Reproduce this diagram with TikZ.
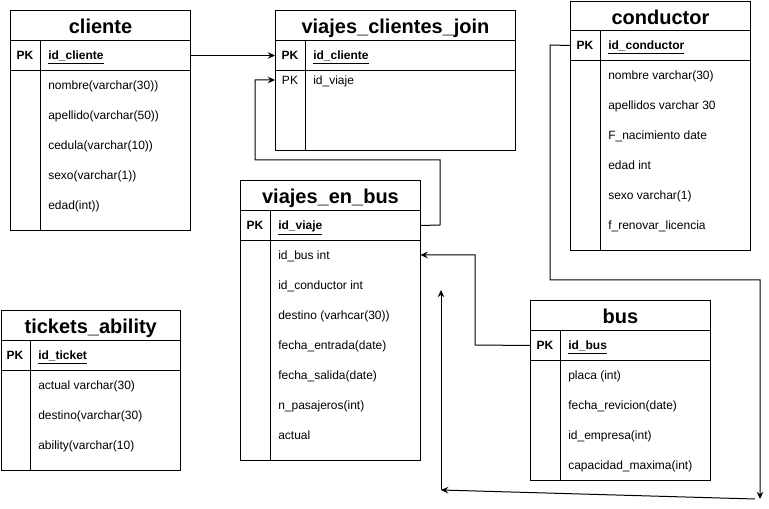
\documentclass[tikz,border=0pt]{standalone}
\usepackage{fontspec}
\setmainfont{Liberation Sans}
\usetikzlibrary{arrows.meta}
\begin{document}
\begin{tikzpicture}[x=0.75pt,y=-0.75pt,
  lw/.style={line width=0.75pt},
  ttl/.style={draw, lw, minimum height=22.5pt, inner sep=0, anchor=north west,
    font=\fontsize{15}{18}\selectfont\bfseries, text height=14pt, text depth=1.5pt},
  pkrow/.style={draw, lw, minimum height=22.5pt, inner sep=0, anchor=north west},
  bodybox/.style={draw, lw, inner sep=0, anchor=north west},
  spot/.style={inner sep=0, minimum height=15pt, anchor=west},
  fld/.style={anchor=west, inner sep=0, font=\fontsize{9}{11}\selectfont, text height=9.3pt, text depth=1.8pt},
  keyf/.style={fld, font=\fontsize{9}{11}\selectfont\bfseries},
  pk/.style={inner sep=0, font=\fontsize{9}{11}\selectfont\bfseries, text height=9.3pt, text depth=1.8pt},
  pkn/.style={pk, font=\fontsize{9}{11}\selectfont},
  conn/.style={draw, lw, line join=miter, -{Stealth[length=5.5pt,width=5pt,inset=2pt]}}
]
\useasboundingbox (0,0) rectangle (769,509);

% ---------- cliente ----------
\node[ttl, minimum width=135pt] (clt) at (10,10) {cliente};
\node[pkrow, minimum width=135pt] (clpk) at (10,40) {};
\node[bodybox, minimum width=135pt, minimum height=120pt] (clb) at (10,70) {};
\draw[lw] (40,40) -- (40,230);
\node[pk] (clpkl) at (25,55) {PK};
\node[keyf] (clk) at (48,55) {\underline{id\_cliente}};
\node[fld] (clf1) at (48,85) {nombre(varchar(30))};
\node[fld] (clf2) at (48,115) {apellido(varchar(50))};
\node[fld] (clf3) at (48,145) {cedula(varchar(10))};
\node[fld] (clf4) at (48,175) {sexo(varchar(1))};
\node[fld] (clf5) at (48,205) {edad(int))};

% ---------- viajes_clientes_join ----------
\node[ttl, minimum width=180pt] (vct) at (275,10) {viajes\_clientes\_join};
\node[pkrow, minimum width=180pt] (vcpk) at (275,40) {};
\node[bodybox, minimum width=180pt, minimum height=60pt] (vcb) at (275,70) {};
\draw[lw] (305,40) -- (305,150);
\node[pk] (vcpkl) at (290,55) {PK};
\node[keyf] (vck) at (313,55) {\underline{id\_cliente}};
\node[pkn] (vcpk2) at (290,80) {PK};
\node[fld] (vcf1) at (313,80) {id\_viaje};
\node[spot, minimum width=180pt] (vcid) at (275,80) {};

% ---------- conductor ----------
\node[ttl, minimum width=135pt, minimum height=21.75pt] (cot) at (570,1) {conductor};
\node[pkrow, minimum width=135pt] (copk) at (570,30) {};
\node[bodybox, minimum width=135pt, minimum height=142.5pt] (cob) at (570,60) {};
\draw[lw] (600,30) -- (600,250);
\node[pk] (copkl) at (585,45) {PK};
\node[keyf] (cok) at (608,45) {\underline{id\_conductor}};
\node[fld] (cof1) at (608,75) {nombre varchar(30)};
\node[fld] (cof2) at (608,105) {apellidos varchar 30};
\node[fld] (cof3) at (608,135) {F\_nacimiento date};
\node[fld] (cof4) at (608,165) {edad int};
\node[fld] (cof5) at (608,195) {sexo varchar(1)};
\node[fld] (cof6) at (608,225) {f\_renovar\_licencia};

% ---------- tickets_ability ----------
\node[ttl, minimum width=134.6pt] (tit) at (0.5,310) {tickets\_ability};
\node[pkrow, minimum width=134.6pt] (tipk) at (0.5,340) {};
\node[bodybox, minimum width=134.6pt, minimum height=75pt] (tib) at (0.5,370) {};
\draw[lw] (30,340) -- (30,470);
\node[pk] (tipkl) at (15,355) {PK};
\node[keyf] (tik) at (38,355) {\underline{id\_ticket}};
\node[fld] (tif1) at (38,385) {actual varchar(30)};
\node[fld] (tif2) at (38,415) {destino(varchar(30)};
\node[fld] (tif3) at (38,445) {ability(varchar(10)};

% ---------- viajes_en_bus ----------
\node[ttl, minimum width=135pt] (vbt) at (240,180) {viajes\_en\_bus};
\node[pkrow, minimum width=135pt] (vbpk) at (240,210) {};
\node[bodybox, minimum width=135pt, minimum height=165pt] (vbb) at (240,240) {};
\draw[lw] (270,210) -- (270,460);
\node[pk] (vbpkl) at (255,225) {PK};
\node[keyf] (vbk) at (278,225) {\underline{id\_viaje}};
\node[fld] (vbf1) at (278,255) {id\_bus int};
\node[fld] (vbf2) at (278,285) {id\_conductor int};
\node[fld] (vbf3) at (278,315) {destino (varhcar(30))};
\node[fld] (vbf4) at (278,345) {fecha\_entrada(date)};
\node[fld] (vbf5) at (278,375) {fecha\_salida(date)};
\node[fld] (vbf6) at (278,405) {n\_pasajeros(int)};
\node[fld] (vbf7) at (278,435) {actual};
\node[spot, minimum width=135pt] (vbbus) at (240,255) {};

% ---------- bus ----------
\node[ttl, minimum width=135pt] (bst) at (530,300) {bus};
\node[pkrow, minimum width=135pt] (bspk) at (530,330) {};
\node[bodybox, minimum width=135pt, minimum height=90pt] (bsb) at (530,360) {};
\draw[lw] (560,330) -- (560,480);
\node[pk] (bspkl) at (545,345) {PK};
\node[keyf] (bsk) at (568,345) {\underline{id\_bus}};
\node[fld] (bsf1) at (568,375) {placa (int)};
\node[fld] (bsf2) at (568,405) {fecha\_revicion(date)};
\node[fld] (bsf3) at (568,435) {id\_empresa(int)};
\node[fld] (bsf4) at (568,465) {capacidad\_maxima(int)};

% ---------- free ends ----------
\coordinate (e1) at (760,499);
\coordinate (e1b) at (755,499);
\coordinate (e2) at (441,490);
\coordinate (e3) at (441,290);

% ---------- connectors ----------
\draw[conn] (clpk.east) -- (vcpk.west);
\draw[conn] (vbpk.east) -- (440,225) -- (440,160) -- (255,160) -- (255,80) -- (vcid.west);
\draw[conn] (bspk.west) -- (475,345) -- (475,255) -- (vbbus.east);
\draw[conn] (copk.west) -- (550,45) -- (550,280) -- (760,280) -- (e1);
\draw[conn] (e1b) -- (e2);
\draw[conn] (e2) -- (e3);
\end{tikzpicture}
\end{document}
